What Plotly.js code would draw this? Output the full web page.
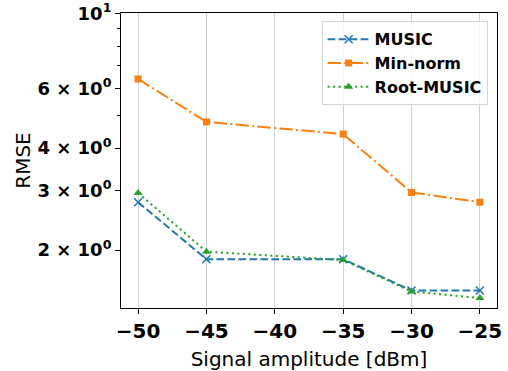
<!DOCTYPE html>
<html>
<head>
<meta charset="utf-8">
<script src="https://cdn.plot.ly/plotly-3.0.1.min.js"></script>
<style>
  html, body { margin: 0; padding: 0; background: #fff; }
  #chart { width: 508px; height: 371px; }
</style>
</head>
<body>
<div id="chart"></div>
<script>
// Signal amplitude sweep (dBm)
const amplitude = [-50, -45, -35, -30, -25];

// RMSE per estimator
const musicRmse = [2.77, 1.88, 1.88, 1.52, 1.52];
const minNormRmse = [6.4, 4.78, 4.40, 2.96, 2.77];
const rootMusicRmse = [2.95, 1.98, 1.87, 1.51, 1.445];

// Axis ticks
const xTickVals = [-50, -45, -40, -35, -30, -25];
const xTickText = ['\u221250', '\u221245', '\u221240', '\u221235', '\u221230', '\u221225'];
const yTickVals = [2, 3, 4, 6, 10];
const yTickText = ['2 \u00d7 10<sup>0</sup>', '3 \u00d7 10<sup>0</sup>', '4 \u00d7 10<sup>0</sup>',
                   '6 \u00d7 10<sup>0</sup>', '10<sup>1</sup>'];
const yMinorVals = [5, 7, 8, 9];

const FONT = 'DejaVu Sans, sans-serif';

const traces = [
  {
    x: amplitude, y: musicRmse, name: 'MUSIC', type: 'scatter', mode: 'lines+markers',
    line: { color: '#1f77b4', width: 2, dash: '7.7px,3.3px' },
    marker: { symbol: 'x-thin', size: 8, line: { color: '#1f77b4', width: 1.5 } }
  },
  {
    x: amplitude, y: minNormRmse, name: 'Min-norm', type: 'scatter', mode: 'lines+markers',
    line: { color: '#ff7f0e', width: 2, dash: '13.3px,3.3px,2.1px,3.3px' },
    marker: { symbol: 'square', size: 7, color: '#ff7f0e' }
  },
  {
    x: amplitude, y: rootMusicRmse, name: 'Root-MUSIC', type: 'scatter', mode: 'lines+markers',
    line: { color: '#2ca02c', width: 2, dash: '2.1px,3.4px' },
    marker: { symbol: 'triangle-up', size: 8, color: '#2ca02c' }
  }
];

const layout = {
  width: 508, height: 371,
  margin: { l: 121, r: 11, t: 13, b: 63 },
  paper_bgcolor: '#fff', plot_bgcolor: '#fff',
  font: { family: FONT, color: '#000', size: 18 },
  showlegend: true,
  legend: {
    x: 0.975, y: 0.972, xanchor: 'right', yanchor: 'top',
    bgcolor: 'rgba(255,255,255,0.8)', bordercolor: '#d6d6d6', borderwidth: 1,
    font: { family: FONT, size: 16, weight: 'bold' },
    itemwidth: 42
  },
  xaxis: {
    range: [-51.25, -23.75],
    tickvals: xTickVals, ticktext: xTickText,
    tickfont: { family: FONT, size: 20, weight: 'bold' },
    ticks: 'outside', ticklen: 5, tickcolor: '#000',
    showline: true, mirror: true, linecolor: '#000', linewidth: 1,
    showgrid: true, gridcolor: '#d0d0d0', gridwidth: 1,
    zeroline: false,
    title: { text: 'Signal amplitude [dBm]', font: { family: FONT, size: 20 } }
  },
  yaxis: {
    type: 'log',
    range: [Math.log10(1.35), 1.0008],
    tickvals: yTickVals, ticktext: yTickText,
    tickfont: { family: FONT, size: 18, weight: 'bold' },
    ticks: 'outside', ticklen: 5, tickcolor: '#000',
    minor: { tickvals: yMinorVals, ticks: 'outside', ticklen: 3, tickcolor: '#000', showgrid: false },
    showline: true, mirror: true, linecolor: '#000', linewidth: 1,
    showgrid: false, zeroline: false,
    title: { text: 'RMSE', font: { family: FONT, size: 20 } }
  }
};

Plotly.newPlot('chart', traces, layout, { displayModeBar: false, staticPlot: true });
</script>
</body>
</html>
